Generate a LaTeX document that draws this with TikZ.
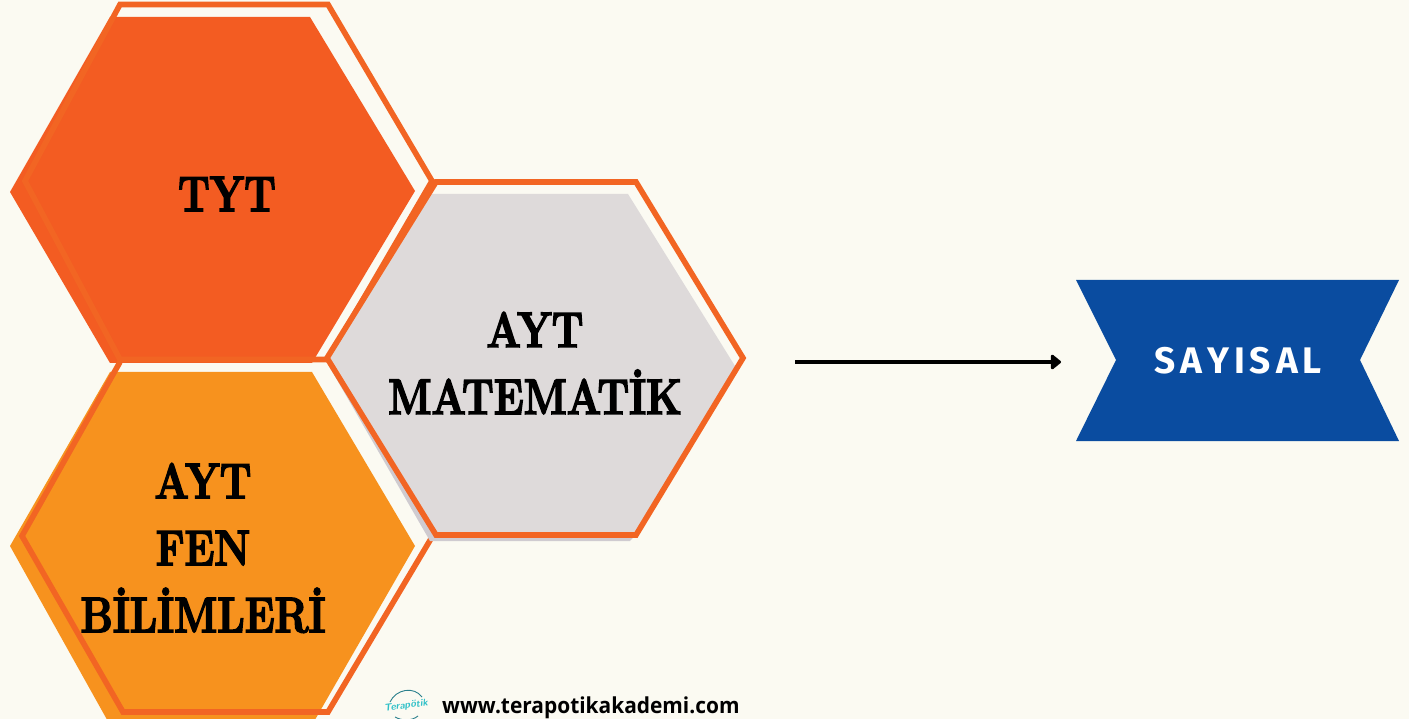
\documentclass[tikz,border=0pt]{standalone}
\usepackage{fontspec}
\usetikzlibrary{arrows.meta}
\newfontfamily\headfont[BoldFeatures={FakeBold=3,FakeStretch=0.81}]{Latin Modern Roman}
\newfontfamily\sitefont[BoldFeatures={FakeStretch=0.95}]{Open Sans}
\newfontfamily\tagfont{Fira Sans}
\definecolor{paper}{HTML}{FBFAF2}
\definecolor{tytfill}{HTML}{F35C22}
\definecolor{fenfill}{HTML}{F7921E}
\definecolor{matfill}{HTML}{DEDADA}
\definecolor{matshade}{HTML}{CFCBD0}
\definecolor{hexstroke}{HTML}{F26523}
\definecolor{bannerblue}{HTML}{0A4CA0}
\definecolor{logoteal}{HTML}{2FC0C8}
\definecolor{logodark}{HTML}{2A7F8C}
\tikzset{
  hexline/.style={draw=hexstroke,line width=5.6pt,line join=miter,fill=none},
  headlabel/.style={font=\headfont\bfseries\fontsize{50}{67}\selectfont,align=center,inner sep=0pt,text=black},
}
\begin{document}
\begin{tikzpicture}[x=1pt,y=-1pt]
\useasboundingbox (0,0) rectangle (1409,719);
\clip (0,0) rectangle (1409,719);
\fill[paper] (0,0) rectangle (1409,719);
% TYT
\fill[tytfill] (10,192) -- (110,17) -- (310,17) -- (415,191) -- (312,363) -- (110,363) -- cycle;
\draw[hexline] (120,4.5) -- (328,4.5) -- (432,181) -- (328,359.5) -- (120,359.5) -- (25,181) -- cycle;
% FEN
\fill[fenfill] (10,546) -- (110,372) -- (312,372) -- (415,546) -- (312,725) -- (110,725) -- cycle;
\draw[hexline] (120,362) -- (22,536) -- (123,712) -- (328,712) -- (432,537);
% MAT
\fill[matshade] (329,366) -- (430,541) -- (630,541) -- (640,530) -- (440,530) -- cycle;
\fill[matfill] (329,358) -- (431,194) -- (628,194) -- (735,366) -- (638,534) -- (436,534) -- cycle;
\draw[hexline] (327,358) -- (436,182) -- (636,182) -- (743,358) -- (636,535) -- (436,535) -- cycle;
% labels
\node[headlabel] (tyt) at (227,194) {TYT};
\node[headlabel] (fen) at (203,548) {AYT\\FEN\\BİLİMLERİ};
\node[headlabel] (mat) at (535,363) {AYT\\MATEMATİK};
% banner
\fill[bannerblue] (1076,280) -- (1399,280) -- (1360,360) -- (1399,441) -- (1076,441) -- (1116,360) -- cycle;
\node[inner sep=0pt,text=white,font=\tagfont\bfseries\fontsize{37}{40}\selectfont] (say) at (1238,361) {S\kern5pt A\kern5pt Y\kern5pt I\kern5pt S\kern5pt A\kern5pt L};
% arrow
\coordinate (from) at (795,362);
\coordinate (to) at (1061,362);
\draw[line width=4pt,-{Triangle[round,length=11pt,width=17pt]}] (from) -- (to);
% footer
\node[inner sep=0pt,anchor=base west,font=\sitefont\bfseries\fontsize{22}{24}\selectfont] (site) at (442,713) {www.terapotikakademi.com};
\coordinate (logo) at (406,706);
\draw[logodark,line width=0.9pt] (390,702) .. controls (396,689) and (414,686) .. (422,697);
\draw[logodark,line width=0.9pt] (395,717) .. controls (402,721) and (412,721) .. (418,716);
\node[inner sep=0pt,text=logoteal,rotate=8,font=\sffamily\itshape\bfseries\fontsize{10}{10}\selectfont] (logotext) at (logo) {Terapötik};
\end{tikzpicture}
\end{document}
